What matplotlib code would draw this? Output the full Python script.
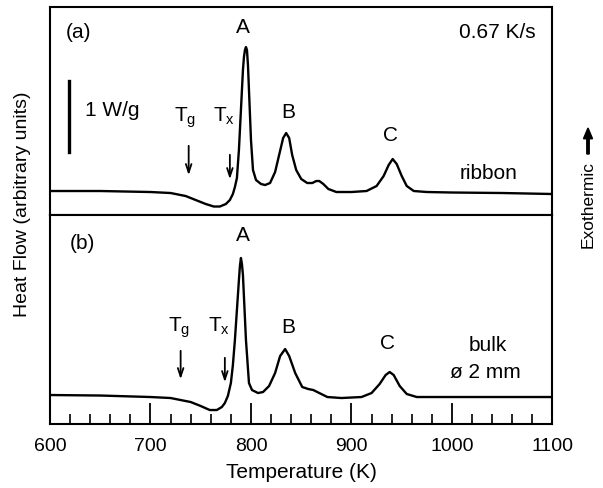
import numpy as np
import matplotlib
matplotlib.use('Agg')
import matplotlib.pyplot as plt

plt.rcParams['font.family'] = ['Liberation Sans', 'DejaVu Sans']
plt.rcParams['mathtext.fontset'] = 'custom'
plt.rcParams['mathtext.rm'] = 'Liberation Sans'
plt.rcParams['mathtext.it'] = 'Liberation Sans'

# (a) ribbon, heat flow in arbitrary units
temp_a = [600, 650, 700, 720, 735, 745, 755, 763, 769, 775, 779, 782, 784, 786, 788, 790,
          792, 793, 794, 795, 796, 797, 798, 800, 802, 805, 810, 814, 819, 824, 828, 832,
          835, 838, 841, 845, 850, 856, 861, 865, 868, 872, 877, 885, 900, 915, 925, 932,
          937, 941, 945, 950, 955, 962, 975, 1000, 1050, 1100]
flow_a = [24, 24, 23, 22, 19, 15, 11, 8.5, 8.5, 11, 15, 21, 28, 37, 65, 105,
          145, 158, 165, 168, 165, 150, 125, 75, 45, 35, 31, 30, 32, 43, 60, 77,
          82, 77, 60, 45, 36, 32, 32, 34, 34, 31, 26, 23, 23, 24, 29, 39,
          50, 56, 51, 39, 29, 24, 23, 22.5, 22, 21]

# (b) bulk 2 mm
temp_b = [600, 650, 700, 720, 740, 750, 759, 766, 771, 774, 777, 780, 782, 784, 786, 788,
          789, 790, 791, 792, 795, 798, 801, 807, 812, 818, 824, 829, 834, 838, 844, 851,
          857, 862, 868, 876, 890, 910, 920, 928, 934, 938, 942, 948, 955, 965, 1000, 1100]
flow_b = [29, 28.5, 27, 26, 22, 18, 14, 14, 17, 21, 28, 41, 59, 84, 114, 144,
          158, 166, 160, 149, 84, 41, 34, 31, 32, 38, 51, 68, 75, 68, 51, 37,
          35, 34, 31, 27, 26, 27, 31, 40, 49, 52, 49, 38, 30, 27, 27, 27]

fs = 15
arrow = dict(arrowstyle='->,head_length=0.6,head_width=0.2', lw=1.3, color='black')

fig = plt.figure(figsize=(6.03, 4.88), dpi=100)
ax1 = fig.add_axes([0.0829, 0.5594, 0.8333, 0.4262])
ax2 = fig.add_axes([0.0829, 0.1311, 0.8333, 0.4283])

for ax in (ax1, ax2):
    ax.set_xlim(600, 1100)
    for sp in ax.spines.values():
        sp.set_linewidth(1.5)
ax1.set_ylim(0, 208)
ax2.set_ylim(0, 209)

ax1.plot(temp_a, flow_a, color='black', lw=1.7)
ax2.plot(temp_b, flow_b, color='black', lw=1.7)

ax1.set_xticks([])
ax1.set_yticks([])
ax2.set_yticks([])
ax2.set_xticks([600, 700, 800, 900, 1000, 1100])
ax2.set_xticks(np.arange(600, 1101, 20), minor=True)
ax2.tick_params(axis='x', which='major', direction='in', length=15, width=1.3, pad=10, labelsize=14)
ax2.tick_params(axis='x', which='minor', direction='in', length=7.5, width=1.2)
ax2.set_xlabel('Temperature (K)', fontsize=fs, labelpad=6)

# panel (a) labels
ax1.text(628, 183, '(a)', fontsize=fs, ha='center', va='center')
ax1.text(1045, 183, '0.67 K/s', fontsize=fs, ha='center', va='center')
ax1.text(792, 188, 'A', fontsize=fs, ha='center', va='center')
ax1.text(837, 103, 'B', fontsize=fs, ha='center', va='center')
ax1.text(939, 80, 'C', fontsize=fs, ha='center', va='center')
ax1.text(1036, 42, 'ribbon', fontsize=fs, ha='center', va='center')
ax1.plot([619, 619], [63, 134], color='black', lw=2.4)
ax1.text(635, 105, '1 W/g', fontsize=fs, ha='left', va='center')
ax1.text(734, 93, r'$\mathregular{T_g}$', fontsize=fs, ha='center', va='baseline')
ax1.annotate('', xy=(738, 37), xytext=(738, 72), arrowprops=arrow)
ax1.text(773, 93, r'$\mathregular{T_x}$', fontsize=fs, ha='center', va='baseline')
ax1.annotate('', xy=(779, 33), xytext=(779, 63), arrowprops=arrow)

# panel (b) labels
ax2.text(632, 181, '(b)', fontsize=fs, ha='center', va='center')
ax2.text(792, 189, 'A', fontsize=fs, ha='center', va='center')
ax2.text(837, 97, 'B', fontsize=fs, ha='center', va='center')
ax2.text(936, 81, 'C', fontsize=fs, ha='center', va='center')
ax2.text(1036, 79, 'bulk', fontsize=fs, ha='center', va='center')
ax2.text(1033, 52, 'ø 2 mm', fontsize=fs, ha='center', va='center')
ax2.text(728, 92, r'$\mathregular{T_g}$', fontsize=fs, ha='center', va='baseline')
ax2.annotate('', xy=(730, 42), xytext=(730, 76), arrowprops=arrow)
ax2.text(768, 92, r'$\mathregular{T_x}$', fontsize=fs, ha='center', va='baseline')
ax2.annotate('', xy=(774, 39), xytext=(774, 69), arrowprops=arrow)

fig.text(23 / 603, 1 - 204 / 488, 'Heat Flow (arbitrary units)', fontsize=14,
         rotation=90, ha='center', va='center')
fig.text(588 / 603, 1 - 204 / 488, 'Exothermic', fontsize=12.5,
         rotation=90, ha='center', va='center')
fig.patches.append(matplotlib.patches.FancyArrow(588 / 603, 1 - 154 / 488, 0, 26 / 488,
                   width=0.004, head_width=0.015, head_length=0.022,
                   length_includes_head=True, color='black', transform=fig.transFigure))

fig.savefig('out.png', dpi=100)
